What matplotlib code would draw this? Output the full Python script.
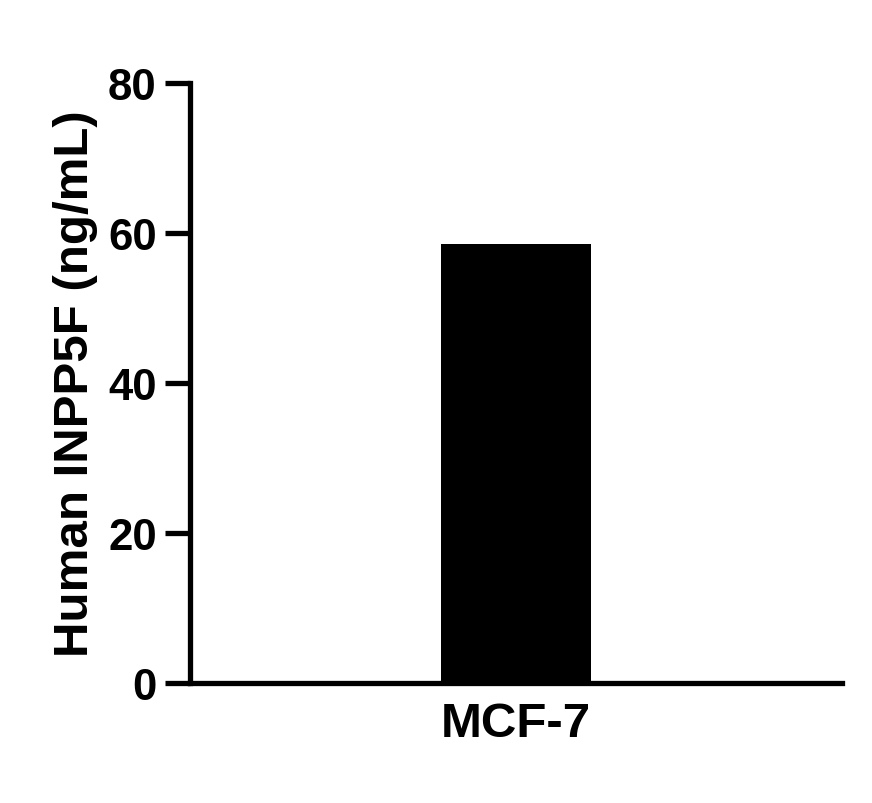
import matplotlib
matplotlib.use('Agg')
import matplotlib.pyplot as plt

plt.rcParams['font.family'] = ['Liberation Sans', 'DejaVu Sans']
plt.rcParams['font.weight'] = 'bold'

# data
categories = ['MCF-7']
values = [58.6]
y_ticks = [0, 20, 40, 60, 80]
y_label = 'Human INPP5F (ng/mL)'

fig = plt.figure(figsize=(8.72, 8.04), dpi=100, facecolor='#ffffff')
ax = fig.add_axes([190 / 872, 1 - 684 / 804, 652 / 872, 600 / 804])

ax.bar(range(len(categories)), values, width=0.46, color='#000000', edgecolor='none')

ax.set_xlim(-1, 1)
ax.set_ylim(0, 80)
ax.set_yticks(y_ticks)
ax.set_xticks(range(len(categories)))
ax.set_xticklabels(categories, fontsize=35.5, fontweight='bold')

for side in ['top', 'right']:
    ax.spines[side].set_visible(False)
for side in ['left', 'bottom']:
    ax.spines[side].set_linewidth(3.8)
    ax.spines[side].set_capstyle('projecting')

ax.tick_params(axis='y', length=18, width=3.8, labelsize=31.5, pad=6)
ax.tick_params(axis='x', length=0, pad=13)
for tx in ax.get_yticklabels():
    tx.set_fontweight('bold')

ax.set_ylabel(y_label, fontsize=35.5, fontweight='bold', labelpad=7)

fig.savefig('out.png', dpi=100, facecolor='#ffffff')
